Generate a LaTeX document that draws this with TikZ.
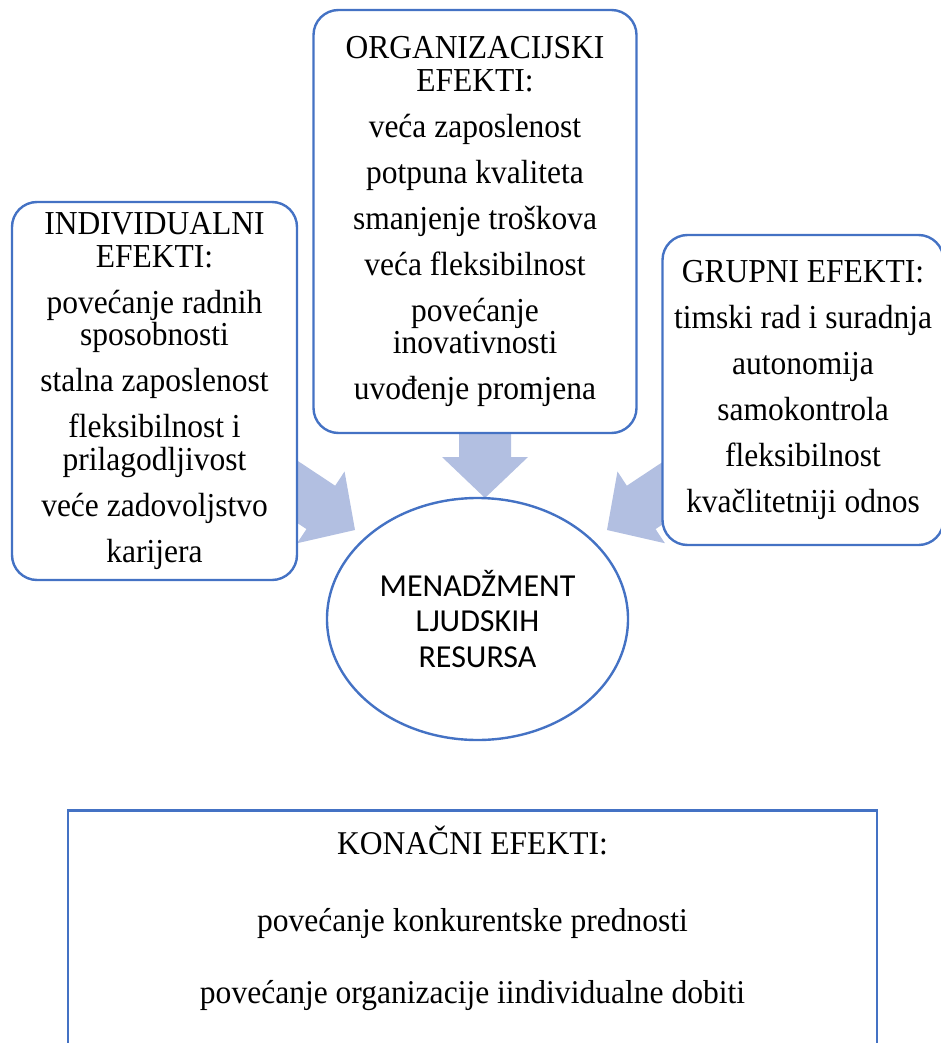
\documentclass[tikz,border=0pt]{standalone}
\usepackage{fontspec}
\setmainfont{Liberation Serif}
\newfontfamily\boxfont{Liberation Serif}[FakeStretch=0.94]
\newfontfamily\finalfont{Liberation Serif}[FakeStretch=0.95]
\newfontfamily\calibrifont{Carlito}
\usepackage{xcolor}
\usepackage{tikz}
\usetikzlibrary{shapes.geometric,positioning}

\definecolor{boxblue}{RGB}{68,114,196}
\definecolor{arrowblue}{RGB}{178,191,225}

\newcommand{\blockarrow}[3]{%
	\fill[arrowblue,shift={(#1)},rotate=#2] (0,0) -- (-41,43) -- (-41,26) -- (-41-#3,26)
		-- (-41-#3,-26) -- (-41,-26) -- (-41,-43) -- cycle;}

\tikzset{
	effectbox/.style={draw=boxblue,line width=2.4pt,rounded corners=25pt,fill=white,
		align=center,inner sep=0pt,font=\boxfont\fontsize{33.5}{32.5}\selectfont},
	hrmellipse/.style={ellipse,draw=boxblue,line width=2.4pt,fill=white,align=center,
		inner sep=0pt,font=\calibrifont\fontsize{32}{35.5}\selectfont},
	finalframe/.style={draw=boxblue,line width=2.6pt,inner sep=0pt},
	finaltext/.style={align=center,inner sep=0pt,font=\finalfont\fontsize{33.2}{31.5}\selectfont}
}

\begin{document}
\begin{tikzpicture}[x=1pt,y=-1pt]
			\useasboundingbox (0,0) rectangle (941,1043);
			\clip (0,0) rectangle (941,1043);
			\coordinate (indtip) at (355,530);
			\coordinate (orgtip) at (485,498);
			\coordinate (grptip) at (607,530);
			\blockarrow{indtip}{-33.5}{70}
			\blockarrow{orgtip}{-90}{40}
			\blockarrow{grptip}{-146.5}{70}
			\node (indiv) [effectbox,minimum width=285pt,minimum height=378pt] at (154.5,391)
				{INDIVIDUALNI\\ EFEKTI:\\[13.5pt] povećanje radnih\\ sposobnosti\\[13.5pt]
				stalna zaposlenost\\[13.5pt] fleksibilnost i\\ prilagodljivost\\[13.5pt]
				veće zadovoljstvo\\[13.5pt] karijera};
			\node (org) [effectbox,minimum width=323pt,minimum height=423pt] at (475,221.5)
				{ORGANIZACIJSKI\\ EFEKTI:\\[13.5pt] veća zaposlenost\\[13.5pt] potpuna kvaliteta\\[13.5pt]
				smanjenje troškova\\[13.5pt] veća fleksibilnost\\[13.5pt] povećanje\\ inovativnosti\\[13.5pt]
				uvođenje promjena};
			\node (grp) [effectbox,minimum width=281pt,minimum height=310pt] at (803,390)
				{GRUPNI EFEKTI:\\[13.5pt] timski rad i suradnja\\[13.5pt] autonomija\\[13.5pt]
				samokontrola\\[13.5pt] fleksibilnost\\[13.5pt] kvačlitetniji odnos};
			\node (hrm) [hrmellipse,minimum width=301pt,minimum height=242pt] at (477.5,619)
				{MENADŽMENT\\ LJUDSKIH\\ RESURSA};
			\node (final) [finalframe,anchor=north,minimum width=809pt,minimum height=260pt] at (472.5,809) {};
			\node (konacni) [finaltext,below=17pt of final.north]
				{KONAČNI EFEKTI:\\[45pt] povećanje konkurentske prednosti\\[41pt]
				povećanje organizacije iindividualne dobiti};
\end{tikzpicture}
\end{document}
